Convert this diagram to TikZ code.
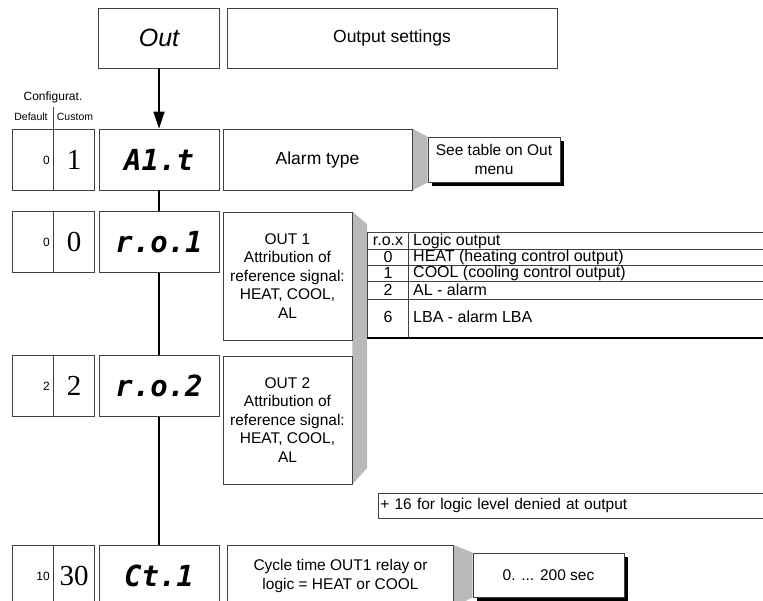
\documentclass[tikz,border=0pt]{standalone}
\usepackage{fontspec}
\setmainfont{Liberation Sans}
\newfontfamily\numfont{Liberation Serif}
\newfontfamily\segfont{DejaVu Sans Mono}
\usetikzlibrary{arrows.meta,shadows,backgrounds}

\tikzset{
	box/.style={draw=black!75, line width=0.8pt, fill=white, inner sep=0pt, align=center, font=\fontsize{15.5}{18.5}\selectfont},
	bigtext/.style={font=\fontsize{17.5}{20}\selectfont},
	dispbox/.style={box, minimum width=120pt, minimum height=61pt, font=\segfont\bfseries\itshape\fontsize{29}{29}\selectfont},
	cfgbox/.style={box, minimum width=82pt, minimum height=61pt},
	descbox/.style={box, minimum height=61pt},
	shadowbox/.style={box, drop shadow={shadow xshift=4pt, shadow yshift=-4pt, fill=black, opacity=1}},
	deflt/.style={anchor=east, inner sep=0pt, font=\fontsize{12}{12}\selectfont},
	custom/.style={inner sep=0pt, font=\numfont\fontsize{29}{29}\selectfont},
	cfghead/.style={inner sep=0pt, font=\fontsize{12}{12}\selectfont},
	cfgsub/.style={inner sep=0pt, font=\fontsize{10.5}{10.5}\selectfont},
	tabtext/.style={inner sep=0pt, font=\fontsize{16}{16}\selectfont},
	tabline/.style={draw=black!75, line width=0.8pt},
	shade/.style={fill=black!27},
	link/.style={line width=1.6pt},
}

\begin{document}
\begin{tikzpicture}[x=1pt,y=-1pt]
	\useasboundingbox (0,0) rectangle (763,600);

	% menu head
	\node[box, minimum width=121pt, minimum height=60pt, font=\itshape\fontsize{25}{25}\selectfont] (out) at (159,38) {Out};
	\node[box, bigtext, minimum width=330pt, minimum height=60pt] (outdesc) at (392,38) {Output settings};

	% configuration columns
	\node[cfghead] (cfghead) at (53,97) {Configurat.};
	\node[cfgsub] (deflab) at (31,117) {Default};
	\node[cfgsub] (custlab) at (75,117) {Custom};
	\coordinate (divtop) at (53,107);

	% A1.t
	\node[cfgbox] (cfg1) at (53,159.5) {};
	\node[dispbox] (disp1) at (159,159.5) {A1.t};
	\node[descbox, bigtext, minimum width=189pt] (desc1) at (317.5,159.5) {Alarm type};
	\node[shadowbox, minimum width=132pt, minimum height=45pt] (note1) at (494,159.5) {See table on Out\\menu};

	% r.o.1
	\node[cfgbox] (cfg2) at (53,242) {};
	\node[dispbox] (disp2) at (159,242) {r.o.1};
	\node[descbox, minimum width=129pt, minimum height=128pt] (desc2) at (287.5,276) {OUT 1\\Attribution of\\reference signal:\\HEAT, COOL,\\AL};

	% r.o.2
	\node[cfgbox] (cfg3) at (53,386) {};
	\node[dispbox] (disp3) at (159,386) {r.o.2};
	\node[descbox, minimum width=129pt, minimum height=128pt] (desc3) at (287.5,420) {OUT 2\\Attribution of\\reference signal:\\HEAT, COOL,\\AL};

	% Ct.1
	\node[cfgbox] (cfg4) at (53,576) {};
	\node[dispbox] (disp4) at (159,576) {Ct.1};
	\node[descbox, minimum width=226pt] (desc4) at (340.5,576) {Cycle time OUT1 relay or\\logic = HEAT or COOL};
	\node[shadowbox, minimum width=151pt, minimum height=44pt] (range) at (548.5,575) {0. ... 200 sec};

	% default / custom values
	\draw[tabline] (divtop) -- (cfg1.south);
	\foreach \r in {2,3,4}
		\draw[tabline] (cfg\r.north) -- (cfg\r.south);
	\foreach \r/\yy/\dv/\cv in {1/160/0/1, 2/242/0/0, 3/386/2/2, 4/576/10/30}{
		\node[deflt] (def\r) at (50,\yy) {\dv};
		\node[custom] (cus\r) at (74,\yy) {\cv};
	}

	% logic output table
	\foreach \yy in {232,249,265,281,299}
		\draw[tabline] (367,\yy) -- (780,\yy);
	\draw[tabline] (367,232) -- (367,337);
	\draw[tabline] (408,232) -- (408,337);
	\draw[line width=2.5pt] (367,338) -- (780,338);
	\foreach \i/\yy/\cd/\tx in {0/241/r.o.x/Logic output, 1/257/0/HEAT (heating control output), 2/273/1/COOL (cooling control output), 3/290/2/AL - alarm, 4/317/6/LBA - alarm LBA}{
		\node[tabtext] (cd\i) at (388,\yy) {\cd};
		\node[tabtext, anchor=west] (tx\i) at (413,\yy) {\tx};
	}

	\node[box, anchor=west, minimum width=400pt, minimum height=25pt, text width=396pt, inner xsep=2pt, align=left] (plus) at (378,505.5) {+ 16 for logic level denied at output};

	% grey bands behind the boxes
	\begin{scope}[on background layer]
		\fill[shade] (desc1.north east) -- (note1.north west) -- (note1.south west) -- (desc1.south east) -- cycle;
		\fill[shade] (desc2.north east) -- (367,224) -- (367,468) -- (desc3.south east) -- cycle;
		\fill[shade] (desc4.north east) -- (range.north west) -- (range.south west) -- (desc4.south east) -- cycle;
	\end{scope}

	% flow
	\draw[link, -{Triangle[width=11pt,length=17pt]}] (out) -- (disp1);
	\draw[link] (disp1) -- (disp2);
	\draw[link] (disp2) -- (disp3);
	\draw[link] (disp3) -- (disp4);

\end{tikzpicture}
\end{document}
